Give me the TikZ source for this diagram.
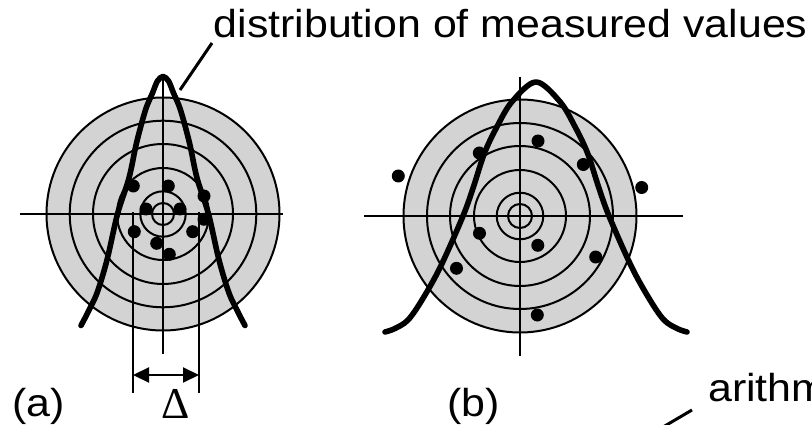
\documentclass[tikz,border=0pt]{standalone}
\usepackage{fontspec}
\usetikzlibrary{arrows.meta}
\newfontfamily\lblfont[FakeStretch=1.1]{Liberation Sans}
\newfontfamily\delfont{Liberation Serif}
\definecolor{tgray}{RGB}{211,211,211}
\begin{document}
\begin{tikzpicture}[x=1pt,y=-1pt,
  ring/.style={line width=2pt},
  cross/.style={line width=1.8pt},
  bell/.style={line width=5.6pt, line cap=round, line join=round},
  lbl/.style={font=\lblfont\fontsize{39}{44}\selectfont, inner sep=0pt, anchor=base west},
  leader/.style={line width=3pt},
  dim/.style={line width=2.3pt}
]
\useasboundingbox (0,0) rectangle (812,425);
\clip (0,0) rectangle (812,425);

% ---------- target (a) ----------
\coordinate (ca) at (163,214);
\fill[tgray] (ca) circle[radius=116.5];
\foreach \r in {116.5,93.3,70,46,22.7,11}
  \draw[ring] (ca) circle[radius=\r];
\coordinate (ah1) at (20,214);  \coordinate (ah2) at (283,214);
\coordinate (av1) at (163,75);  \coordinate (av2) at (163,354);
\draw[cross] (ah1) -- (ah2);
\draw[cross] (av1) -- (av2);
\foreach \p in {(133.3,186),(168.3,186),(204,196),(146,209),(180,209),
                (204,219.3),(134.3,231.7),(192.7,231.7),(156.7,243.3),(169.3,254.3)}
  \fill \p circle[radius=6.5];
\begin{scope}[shift={(163,0)}]
\draw[bell] plot[smooth, tension=0.55] coordinates {
  (-82,325.5) (-78.5,319) (-74.5,311) (-66,293) (-56,260) (-45.5,214) (-34,178)
  (-26.5,143) (-17.5,110) (-10.5,93) (-5.5,81) (0,76.5)
  (5.5,81) (10.5,93) (17.5,110) (26.5,143) (34,178) (45.5,214) (56,260) (66,293)
  (74.5,311) (78.5,319) (82,325.5)};
\end{scope}

% dimension Delta
\coordinate (l1t) at (133,212); \coordinate (l1b) at (133,393);
\coordinate (l2t) at (199,212); \coordinate (l2b) at (199,393);
\draw[dim] (l1t) -- (l1b);
\draw[dim] (l2t) -- (l2b);
\coordinate (dl) at (133,375); \coordinate (dr) at (199,375);
\draw[line width=2pt, {Triangle[length=16pt,width=15pt]}-{Triangle[length=16pt,width=15pt]}] (dl) -- (dr);
\node[font=\delfont\fontsize{44}{48}\selectfont, inner sep=0pt, text depth=0pt, anchor=base] (delta) at (176,418) {Δ};

% ---------- target (b) ----------
\coordinate (cb) at (520,216);
\fill[tgray] (cb) circle[radius=116.5];
\foreach \r in {116.5,93,70,46,23.3,12}
  \draw[ring] (cb) circle[radius=\r];
\coordinate (bh1) at (364,216);  \coordinate (bh2) at (683,216);
\coordinate (bv1) at (520,77);   \coordinate (bv2) at (520,356);
\draw[cross] (bh1) -- (bh2);
\draw[cross] (bv1) -- (bv2);
\foreach \p in {(398.3,176),(538,141),(479.3,153),(583.3,164.5),(641.7,187.5),
                (479.5,233.3),(537.8,245.3),(456.5,268.3),(595.7,257),(537.3,315)}
  \fill \p circle[radius=6.5];
\begin{scope}[shift={(536,0)}]
\draw[bell] plot[smooth, tension=0.55] coordinates {
  (-151,332) (-141,328.5) (-128,320) (-114,300) (-95.5,266.7) (-73,216)
  (-62.5,186.7) (-51.5,153) (-39,126.7) (-24,101.7) (0,82)
  (24,101.7) (39,126.7) (51.5,153) (62.5,186.7) (73,216) (95.5,266.7)
  (114,300) (128,320) (141,328.5) (151,332)};
\end{scope}

% ---------- labels ----------
\node[lbl] (dist) at (213.5,38) {distribution of measured values};
\coordinate (d1) at (212,43); \coordinate (d2) at (180,90);
\draw[leader] (d1) -- (d2);

\node[lbl] (la) at (12,416) {(a)};
\node[lbl] (lb) at (447,416) {(b)};

\node[lbl] (ar) at (708,401) {arithm};
\coordinate (m1) at (692,410); \coordinate (m2) at (658,430);
\draw[leader] (m1) -- (m2);
\end{tikzpicture}
\end{document}
